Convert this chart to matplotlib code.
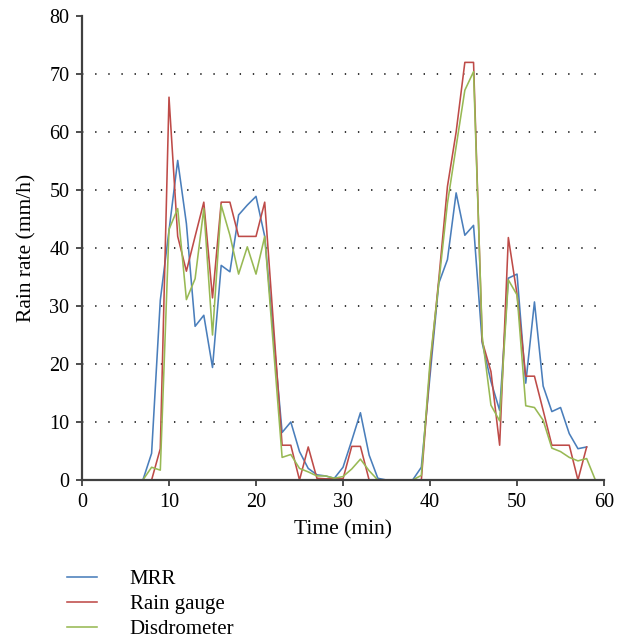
import numpy as np
import matplotlib
matplotlib.use("Agg")
import matplotlib.pyplot as plt

plt.rcParams["font.family"] = ["Liberation Serif", "DejaVu Serif"]

# minutes
t_gauge = list(range(1, 59))
t_dis = list(range(1, 60))

mrr = [0, 0, 0, 0, 0, 0, 0, 4.6, 31, 43,
       55.1, 44.2, 26.5, 28.4, 19.4, 37, 35.9, 45.7, 47.4, 48.9,
       42, 25, 8.2, 10, 4.9, 2, 0.9, 0.7, 0.3, 2.2,
       6.8, 11.6, 4.3, 0.3, 0, 0, 0, 0, 2.2, 18,
       33.9, 38, 49.5, 42.2, 43.9, 23.6, 17, 12, 34.8, 35.5,
       16.7, 30.7, 16.2, 11.8, 12.5, 8, 5.4, 5.7]

rain_gauge = [0, 0, 0, 0, 0, 0, 0, 0, 5.4, 66,
              42, 36, 42, 47.9, 31.4, 47.9, 47.9, 42, 42, 42,
              47.9, 27, 6, 6, 0, 5.7, 0.3, 0.2, 0.2, 0.2,
              5.8, 5.8, 0, 0, 0, 0, 0, 0, 0, 19.5,
              34.5, 50.6, 60, 72, 72, 23.9, 18.7, 6, 41.8, 32,
              17.9, 17.9, 12, 6, 6, 6, 0, 5.7]

disdrometer = [0, 0, 0, 0, 0, 0, 0, 2.2, 1.7, 43.2,
               46.8, 31.1, 34.7, 46.8, 25, 47.4, 42.2, 35.5, 40.2, 35.5,
               42, 23, 3.9, 4.4, 2, 1.4, 0.7, 0.7, 0.3, 0.6,
               1.9, 3.6, 1.6, 0, 0, 0, 0, 0, 0.8, 20.4,
               33.9, 47.7, 57.5, 67.2, 70.4, 24.7, 12.9, 10.2, 34.5, 31.9,
               12.8, 12.5, 10.3, 5.5, 4.9, 3.9, 3.3, 3.7, 0]

fig = plt.figure(figsize=(6.23, 6.39), dpi=100)
ax = fig.add_axes([0.1316, 0.2488, 0.838, 0.7262])

l1, = ax.plot(t_gauge, mrr, color="#4A7EBB", lw=1.15, label="MRR")
l2, = ax.plot(t_gauge, rain_gauge, color="#BE4B48", lw=1.15, label="Rain gauge")
l3, = ax.plot(t_dis, disdrometer, color="#98B954", lw=1.15, label="Disdrometer")

ax.set_xlim(0, 60)
ax.set_ylim(0, 80)
ax.set_xticks(np.arange(0, 61, 10))
ax.set_yticks(np.arange(0, 81, 10))

# dotted horizontal grid
for v in range(10, 80, 10):
    ax.axhline(v, color="black", lw=1.1, linestyle=(0, (0.9, 7.7)), zorder=0)

for s in ["top", "right"]:
    ax.spines[s].set_visible(False)
for s in ["left", "bottom"]:
    ax.spines[s].set_color("#404040")
    ax.spines[s].set_linewidth(1.6)

ax.tick_params(direction="out", length=4, width=1.3, color="#404040",
               labelsize=14.5, pad=5)
ax.set_xlabel("Time (min)", fontsize=15.5, labelpad=6)
ax.set_ylabel("Rain rate (mm/h)", fontsize=15.5, labelpad=9)

fig.legend(handles=[l1, l2, l3], loc="upper left",
           bbox_to_anchor=(0.108, 0.109), frameon=False, fontsize=15,
           handlelength=1.45, handletextpad=1.55, labelspacing=0.26,
           borderaxespad=0, borderpad=0)

fig.savefig("out.png", dpi=100)
